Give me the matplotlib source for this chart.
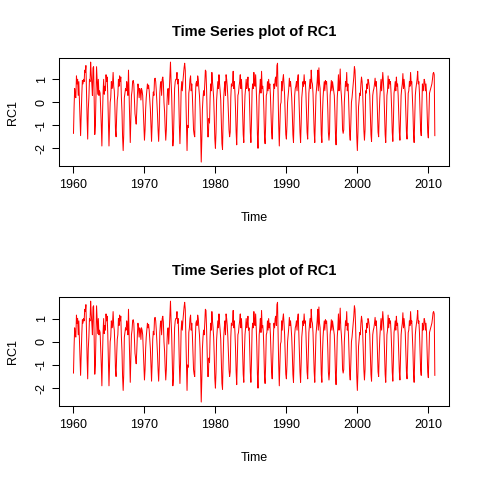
import matplotlib
matplotlib.use("Agg")
import matplotlib.pyplot as plt
import numpy as np

plt.rcParams['font.family'] = ['Liberation Sans', 'DejaVu Sans']

# monthly values of RC1, one row per year (Jan..Dec)
rc1_by_year = [
    [-1.35, -0.2, 0.6, 0.25, 0.2, 1.15, 0.8, 1.0, 0.3, 0.9, 0.1, -0.6],      # 1960
    [-1.45, -0.5, 0.3, 0.95, 0.8, 1.0, 0.9, 1.4, 1.3, 1.6, 0.4, -0.7],       # 1961
    [-1.6, -0.3, 0.2, 1.0, 0.9, 1.75, 1.2, 0.8, 0.3, 1.5, 1.55, 0.2],        # 1962
    [-1.4, -1.0, 0.3, 1.55, 1.0, 0.35, 1.0, 0.3, 0.5, 0.4, -0.3, -1.0],      # 1963
    [-1.9, -0.6, 0.4, 1.0, 0.35, 0.7, 0.5, 1.2, 0.9, 1.1, 0.3, -0.9],        # 1964
    [-1.9, -0.9, 0.0, 0.2, 0.9, 0.6, 0.8, 1.3, 0.7, 0.5, -0.2, -1.2],        # 1965
    [-1.5, -0.6, 0.1, 0.3, 1.0, 0.7, 1.15, 0.9, 1.1, 0.2, -0.4, -1.5],       # 1966
    [-2.1, -1.4, 0.2, 0.4, 0.6, 0.5, 0.9, 0.7, 0.3, 1.4, 0.4, -0.6],         # 1967
    [-1.75, -0.8, 0.3, 0.5, 0.9, 0.95, 0.8, 0.2, -0.5, -0.7, -0.95, -0.4],   # 1968
    [0.3, 0.8, 0.6, 0.2, 0.6, 0.5, 0.1, 0.6, 0.5, 0.3, -0.4, -1.0],          # 1969
    [-1.65, -1.2, -0.3, 0.2, 0.5, 0.8, 0.6, 0.75, 0.5, 0.1, -0.3, -1.0],     # 1970
    [-1.7, -0.9, 0.1, 0.45, 0.3, 1.0, 1.05, 0.9, 0.5, 0.0, -0.5, -1.2],      # 1971
    [-1.7, -1.0, 0.4, 0.8, 0.9, 0.3, 1.0, 1.1, 0.85, 0.0, -0.4, -1.1],       # 1972
    [-1.65, -1.2, -0.1, 0.5, 0.6, -0.1, 0.5, 1.2, 1.75, 0.9, 0.3, -0.9],     # 1973
    [-1.9, -1.6, -0.4, 0.6, 0.9, 1.0, 1.0, 1.3, 0.8, 1.0, 0.2, -1.0],        # 1974
    [-1.8, -0.9, 0.5, 0.9, 0.5, 0.9, 1.2, 1.5, 1.7, 1.4, 0.2, -1.0],         # 1975
    [-2.1, -1.0, -1.1, 0.4, 0.6, 1.0, 1.15, 0.5, 0.8, 0.3, -0.4, -1.2],      # 1976
    [-1.4, -1.5, 0.1, 0.8, 0.9, 0.7, 1.15, 1.0, 0.6, 0.3, -0.3, -1.3],       # 1977
    [-2.6, -1.6, -0.3, 0.2, 0.5, 0.3, 0.8, 1.4, 1.35, 0.6, -0.5, -1.5],      # 1978
    [-1.5, -0.7, -0.9, 0.2, 0.8, 0.5, 1.3, 0.9, 0.6, 0.2, -0.6, -1.6],       # 1979
    [-2.0, -1.3, 0.1, 0.5, 0.9, 0.6, 1.2, 0.8, 0.5, 0.1, -0.8, -1.8],        # 1980
    [-2.05, -0.8, 0.2, 0.6, 0.9, 0.3, 1.2, 1.0, 0.7, 0.2, -0.5, -1.2],       # 1981
    [-1.5, -1.3, 0.2, 0.8, 0.7, 0.9, 1.35, 0.6, 0.9, 0.4, -0.3, -1.3],       # 1982
    [-1.85, -0.7, 0.3, 0.4, 0.7, 0.9, 1.2, 0.6, 1.0, 0.5, -0.4, -1.4],       # 1983
    [-1.75, -0.5, 0.3, 0.6, 1.0, 0.6, 0.8, 1.1, 0.5, 0.6, -0.3, -1.3],       # 1984
    [-1.75, -0.8, 0.5, 0.8, 0.6, 1.3, 0.9, 0.7, 1.2, 0.6, -0.2, -1.4],       # 1985
    [-2.0, -1.0, 0.3, 0.6, 1.0, 0.4, 1.35, 0.6, 0.7, 0.4, -0.4, -1.5],       # 1986
    [-1.8, -0.9, 0.3, 0.4, 0.9, 0.5, 1.0, 0.6, 0.8, 0.3, -0.5, -1.3],        # 1987
    [-1.6, -0.7, 0.2, 0.8, 0.6, 1.0, 1.1, 0.7, 1.6, 1.7, 0.3, -1.0],         # 1988
    [-1.9, -1.0, -0.1, 0.0, 0.9, 0.5, 1.0, 1.2, 0.8, 0.3, -0.6, -1.4],       # 1989
    [-1.6, -1.0, 0.0, 0.3, 0.6, 1.05, 0.7, 0.9, 0.6, 0.2, -0.5, -1.4],       # 1990
    [-1.75, -0.7, 0.3, 0.6, 0.7, 0.9, 0.5, 1.0, 1.2, 0.4, -0.4, -1.3],       # 1991
    [-1.75, -0.9, 0.2, 0.5, 0.9, 0.7, 1.2, 0.8, 0.9, 0.4, -0.5, -1.3],       # 1992
    [-1.6, -0.6, 0.4, 0.7, 1.0, 0.6, 1.4, 0.9, 0.8, 0.4, -0.5, -1.3],        # 1993
    [-1.75, -0.8, 0.3, 0.6, 0.9, 1.4, 0.5, 1.5, 0.8, 0.6, -0.3, -1.4],       # 1994
    [-1.75, -0.5, 0.2, 0.6, 0.9, 0.5, 0.95, 0.8, 0.9, 0.4, -0.3, -1.3],      # 1995
    [-1.65, -1.3, 0.3, 0.6, 0.95, 0.5, 0.9, 0.7, 0.5, 0.3, -0.4, -1.4],      # 1996
    [-1.85, -1.0, 0.2, 0.6, 1.2, 0.5, 0.8, 1.45, 0.6, 0.3, -0.2, -1.2],      # 1997
    [-1.35, -1.2, 0.0, 0.5, 0.9, 0.7, 1.3, 0.5, 0.8, 0.3, -0.5, -1.4],       # 1998
    [-1.65, -0.9, 0.0, 0.2, 0.5, 0.8, 1.1, 1.55, 1.4, 0.7, -0.3, -1.5],      # 1999
    [-2.1, -1.3, -0.2, 0.1, 0.4, 0.3, 0.8, 1.1, 0.9, 0.4, -0.4, -1.2],       # 2000
    [-1.65, -1.2, 0.5, 0.4, 0.8, 0.6, 1.0, 0.9, 0.7, 0.3, -0.5, -1.4],       # 2001
    [-1.7, -0.6, 0.3, 0.5, 0.6, 0.8, 1.05, 0.7, 0.9, 0.4, -0.4, -1.3],       # 2002
    [-1.5, -0.5, 0.2, 0.6, 1.0, 0.5, 0.9, 1.3, 0.9, 0.4, -0.5, -1.4],        # 2003
    [-1.75, -0.7, 0.3, 0.5, 1.15, 0.6, 1.0, 0.8, 0.9, 0.4, -0.3, -1.3],      # 2004
    [-1.7, -0.8, 0.4, 0.6, 0.9, 0.5, 1.1, 0.7, 0.8, 0.3, -0.5, -1.3],        # 2005
    [-1.65, -0.7, 0.3, 0.6, 0.8, 1.25, 0.6, 1.0, 0.7, 0.4, -0.4, -1.3],      # 2006
    [-1.6, -0.6, 0.4, 0.5, 0.9, 0.7, 1.3, 0.8, 0.9, 0.3, -0.4, -1.4],        # 2007
    [-1.75, -0.8, 0.3, 0.6, 0.8, 1.0, 1.35, 0.8, 0.9, 0.4, -0.4, -1.2],      # 2008
    [-1.45, -0.4, 0.8, 0.5, 0.7, 1.0, 0.9, 0.5, 0.8, 0.4, -0.5, -1.3],       # 2009
    [-1.55, -0.5, 0.4, 0.5, 0.6, 0.7, 0.8, 1.0, 1.25, 1.3, 1.2, -1.45],      # 2010
]
start_year = 1960

rc1 = np.array(rc1_by_year).ravel()
time = start_year + np.arange(len(rc1)) / 12.0

title = "Time Series plot of RC1"
xticks = [1960, 1970, 1980, 1990, 2000, 2010]
yticks = [-2, -1, 0, 1]

fig = plt.figure(figsize=(4.8, 4.8), dpi=100)
fig.patch.set_facecolor('white')

# axes rectangles in figure fractions, like R's mfrow=c(2,1)
rects = [[0.123, 0.654, 0.813, 0.225],
         [0.123, 0.154, 0.813, 0.227]]


def r_range(v):
    # R pads the data range by 4 % on each side
    lo, hi = np.min(v), np.max(v)
    d = (hi - lo) * 0.04
    return lo - d, hi + d


for r in rects:
    ax = fig.add_axes(r)
    ax.plot(time, rc1, color='red', linewidth=0.72)
    ax.set_xlim(*r_range(time))
    ax.set_ylim(*r_range(rc1))
    ax.set_xticks(xticks)
    ax.set_yticks(yticks)
    ax.set_yticklabels([str(t) for t in yticks], rotation=90, va='center')
    ax.tick_params(direction='out', length=5, width=0.75, labelsize=9)
    ax.tick_params(axis='x', pad=4.5)
    ax.tick_params(axis='y', pad=3)
    for spine in ax.spines.values():
        spine.set_linewidth(0.75)
        spine.set_color('black')
    ax.set_title(title, fontsize=10.5, fontweight='bold', pad=16)
    ax.set_xlabel('Time', fontsize=9, labelpad=15)
    ax.set_ylabel('RC1', fontsize=9, labelpad=12)

fig.savefig('out.png', dpi=100, facecolor='white')
